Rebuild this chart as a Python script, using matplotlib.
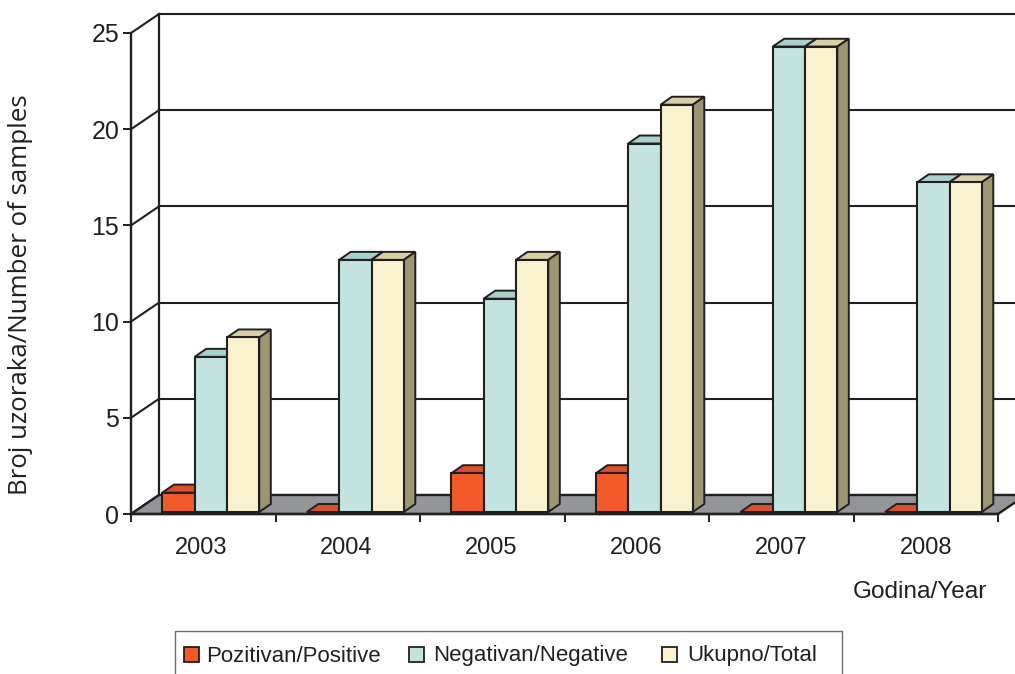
import matplotlib
matplotlib.use("Agg")
import matplotlib.pyplot as plt
from matplotlib.patches import Polygon, Rectangle

plt.rcParams["font.family"] = ["Liberation Sans", "DejaVu Sans"]

years = ["2003", "2004", "2005", "2006", "2007", "2008"]
positive = [1, 0, 2, 2, 0, 0]
negative = [8, 13, 11, 19, 24, 17]
total = [9, 13, 13, 21, 24, 17]
series_names = ["Pozitivan/Positive", "Negativan/Negative", "Ukupno/Total"]

INK = "#231f20"
W, H = 1015, 674
LEFT, RIGHT, BOTTOM, TOP = 131, 998, 514, 33  # plot front, pixels

fig = plt.figure(figsize=(W / 100, H / 100), dpi=100)
ax = fig.add_axes([LEFT / W, 1 - BOTTOM / H, (RIGHT - LEFT) / W, (BOTTOM - TOP) / H])
ax.set_xlim(0, 6)
ax.set_ylim(0, 25)
ax.patch.set_alpha(0)

# pixel sizes turned into data units
px_x = 6 / (RIGHT - LEFT)
px_y = 25 / (BOTTOM - TOP)
wall_dx, wall_dy = 28 * px_x, 19 * px_y
bar_dx, bar_dy = 11.5 * px_x, 8 * px_y
bar_w = 32.3 * px_x
bar_start = 31.4 * px_x
base = 2 * px_y
stretch = 1.008  # bars sit slightly off the front scale
ceiling = 24.7  # depth of the tallest bars is cut off near the top

# floor
ax.add_patch(Polygon([(0, 0), (wall_dx, wall_dy), (6 + wall_dx, wall_dy), (6, 0)],
                     closed=True, fc="#939598", ec=INK, lw=1.7, clip_on=False, zorder=1))

# back wall and side wall
for v in [0, 5, 10, 15, 20, 25]:
    ax.plot([wall_dx, 6 + wall_dx], [v + wall_dy] * 2, color=INK, lw=1.5, clip_on=False, zorder=0.5)
    ax.plot([0, wall_dx], [v, v + wall_dy], color=INK, lw=1.5, clip_on=False, zorder=0.5)
ax.plot([wall_dx, wall_dx], [wall_dy, 25 + wall_dy], color=INK, lw=1.6, clip_on=False, zorder=0.5)

styles = [
    ("#f15a29", "#d9502a", "#b8431f"),
    ("#c3e3e0", "#a9d0cd", "#8fb3b0"),
    ("#faf2cf", "#d8cfa6", "#9c9672"),
]

for i in range(6):
    for j, values in enumerate([positive, negative, total]):
        front, top, side = styles[j]
        x0 = i + bar_start + j * bar_w
        h = values[i] * stretch
        back = min(base + h + bar_dy, ceiling)
        z = 3 + i + j * 0.1
        ax.add_patch(Polygon([(x0, base + h), (x0 + bar_dx, back),
                              (x0 + bar_w + bar_dx, back), (x0 + bar_w, base + h)],
                             closed=True, fc=top, ec=INK, lw=1.4, clip_on=False, zorder=z))
        if values[i] > 0:
            ax.add_patch(Polygon([(x0 + bar_w, base), (x0 + bar_w + bar_dx, base + bar_dy),
                                  (x0 + bar_w + bar_dx, back), (x0 + bar_w, base + h)],
                                 closed=True, fc=side, ec=INK, lw=1.4, clip_on=False, zorder=z))
            ax.bar(x0, h, width=bar_w, bottom=base, align="edge", color=front,
                   edgecolor=INK, lw=1.5, clip_on=False, zorder=z + 0.01)

for s in ["top", "right"]:
    ax.spines[s].set_visible(False)
for s in ["left", "bottom"]:
    ax.spines[s].set_color(INK)
    ax.spines[s].set_linewidth(1.7)
    ax.spines[s].set_zorder(2)

ax.set_xticks(range(7))
ax.set_xticklabels([])
ax.set_xticks([0.484 + i * 1.0035 for i in range(6)], years, minor=True)
ax.set_yticks([0, 5, 10, 15, 20, 25])
ax.tick_params(axis="both", which="major", length=5.5, width=1.4, color=INK, labelcolor=INK, pad=3)
ax.tick_params(axis="y", labelsize=18)
ax.tick_params(axis="x", which="minor", length=0, labelsize=17, labelcolor=INK, pad=16.5)

fig.text(21 / W, 1 - 295 / H, "Broj uzoraka/Number of samples", rotation=90,
         ha="center", va="center", fontsize=18.6, color=INK, family=["Open Sans", "DejaVu Sans"])
fig.text(920 / W, 1 - 592 / H, "Godina/Year", ha="center", va="center", fontsize=17.6, color=INK)

# legend box, runs off the bottom of the page
fig.add_artist(Rectangle((175 / W, -0.02), 667 / W, 0.02 + 1 - 631 / H, transform=fig.transFigure,
                         fc="white", ec="#6d6e71", lw=1.0))
for (front, _, _), name, xs, xt in zip(styles, series_names, [184, 409, 662], [206, 433, 687]):
    fig.add_artist(Rectangle((xs / W, 1 - 662 / H), 15 / W, 15 / H, transform=fig.transFigure,
                             fc=front, ec=INK, lw=1.3))
    fig.text(xt / W, 1 - 656 / H, name, ha="left", va="center", fontsize=16, color=INK)

fig.savefig("out.png", dpi=100)
